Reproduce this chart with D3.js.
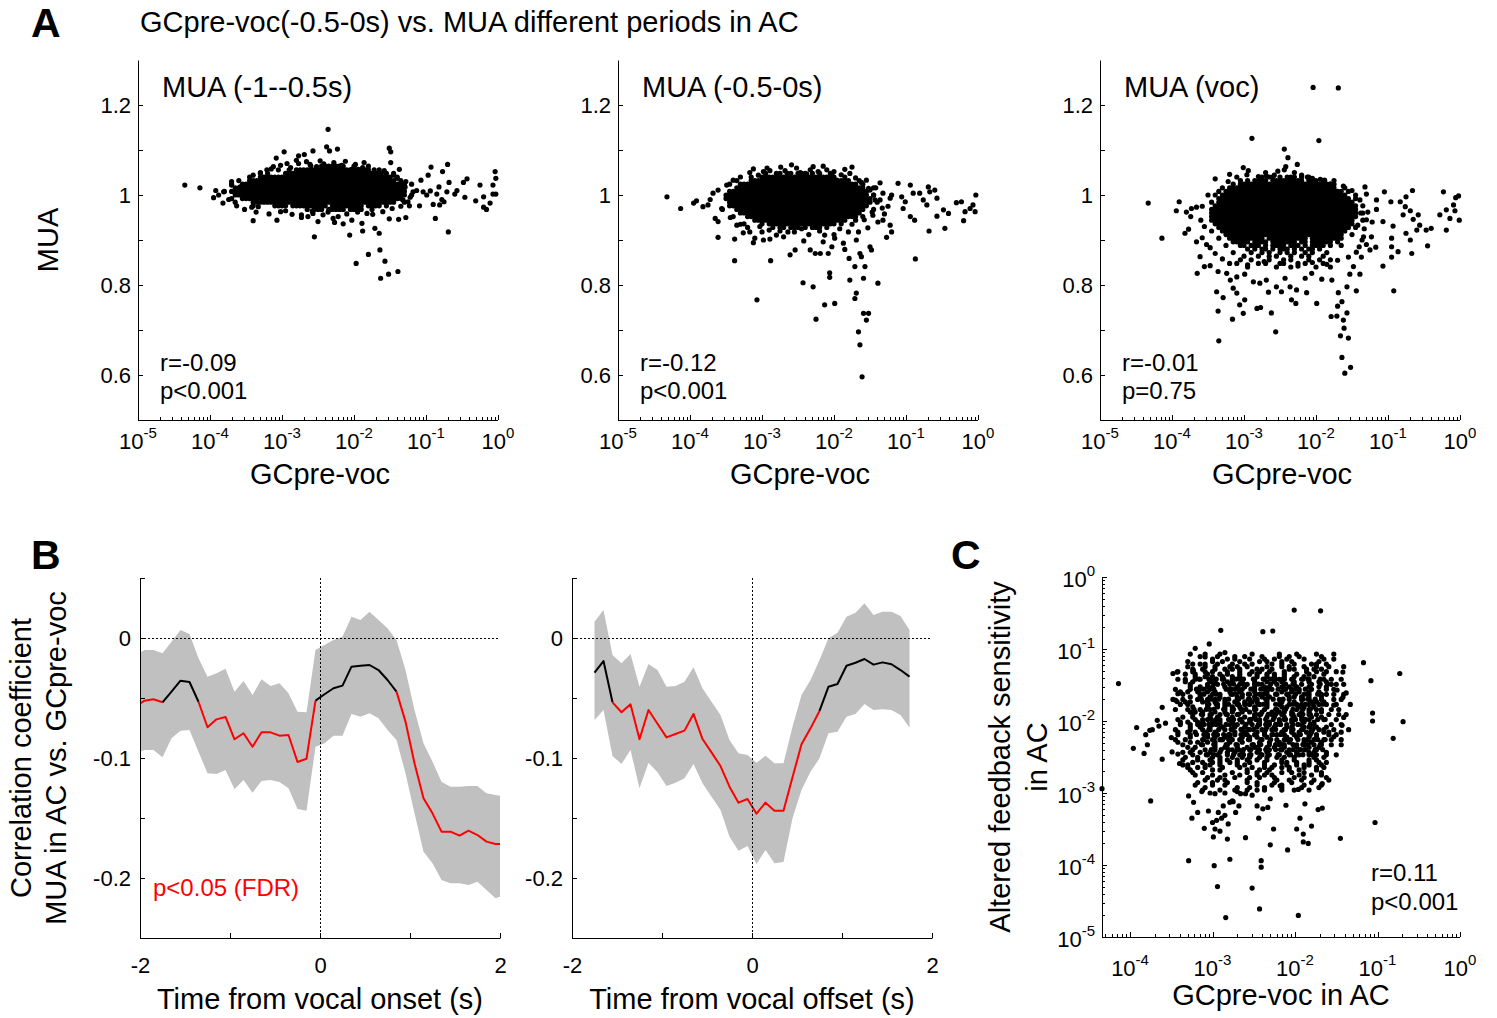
<!DOCTYPE html>
<html>
<head>
<meta charset="utf-8">
<script src="https://cdn.jsdelivr.net/npm/d3@7"></script>
<style>
  body { margin: 0; background: #fff; }
  text { font-family: Arial, "Liberation Sans", Helvetica, sans-serif; fill: #000; }
</style>
</head>
<body>
<svg id="fig" width="1497" height="1018"></svg>
<script>
// ---------------- data ----------------
// panel A: MUA vs GCpre-voc, three periods
var aTitles = ["MUA (-1--0.5s)", "MUA (-0.5-0s)", "MUA (voc)"];
var aStatR = ["r=-0.09", "r=-0.12", "r=-0.01"];
var aStatP = ["p<0.001", "p<0.001", "p=0.75"];
var aYTickValues = [0.6, 0.7, 0.8, 0.9, 1, 1.1, 1.2];
var aYTickLabels = [0.6, 0.8, 1, 1.2];
var aXTickExp = [-5, -4, -3, -2, -1, 0];

// scattered dots: [log10(GCpre-voc), MUA]
var a1Points = [[-4.35,1.022],[-4.14,1.016],[-3.95,0.994],[-3.92,1.010],[-3.82,0.982],[-3.81,1.007],[-3.70,1.022],[-3.63,0.976],[-3.58,1.018],[-3.40,0.943],[-3.40,1.044],[-3.42,0.973],[-3.07,0.944],[-2.97,1.096],[-3.08,1.082],[-2.77,1.087],[-2.69,1.090],[-2.57,1.098],[-2.36,1.146],[-2.38,1.107],[-2.34,1.098],[-2.23,1.102],[-2.55,0.907],[-2.50,0.941],[-2.06,0.911],[-1.97,0.848],[-1.80,0.868],[-1.64,0.878],[-1.57,0.853],[-1.63,0.815],[-1.52,0.824],[-1.39,0.830],[-1.51,1.104],[-1.49,1.096],[-1.49,1.072],[-1.86,1.072],[-0.69,0.918],[-0.87,0.948],[-1.28,0.950],[-1.38,0.946],[-1.51,0.947],[-1.65,0.915],[-1.71,0.926],[-1.88,0.920],[-1.89,0.937],[-2.15,0.936],[-2.27,0.939],[-2.64,0.952],[-2.73,0.950],[-2.95,0.965],[-3.33,0.974],[-0.93,1.062],[-0.70,1.068],[-0.77,1.052],[-0.97,1.044],[-1.07,1.033],[-0.82,1.018],[-0.68,1.028],[-0.48,1.028],[-0.43,1.036],[-0.25,1.022],[-0.04,1.052],[-0.03,1.037],[-0.07,1.022],[-0.07,1.002],[-0.03,1.002],[-0.20,0.996],[-0.31,0.987],[-0.11,0.982],[-0.16,0.968],[-0.20,0.973],[-0.46,0.995],[-0.57,1.010],[-0.60,1.002],[-0.71,1.007],[-0.78,0.990],[-0.85,1.002],[-0.90,0.979],[-0.75,0.985],[-0.81,0.978],[-0.94,1.009],[-0.99,1.000],[-1.04,1.007],[-1.09,0.976],[-1.18,1.007],[-1.22,0.995],[-1.23,0.976],[-1.32,0.989],[-1.34,1.002],[-1.37,1.057],[-1.62,1.048],[-1.45,1.044],[-1.29,1.018],[-1.13,1.010],[-2.73,0.956],[-2.57,0.959],[-2.43,0.956],[-2.29,0.948],[-2.03,0.944],[-1.82,0.959],[-3.21,1.056],[-3.12,1.063],[-2.93,1.070],[-2.77,1.070],[-2.66,1.074],[-2.52,1.063],[-2.03,1.057],[-1.94,1.057],[-1.78,1.048],[-1.66,1.041],[-3.30,1.050],[-3.15,1.058],[-3.02,1.066],[-2.88,1.061],[-2.80,1.077],[-2.61,1.068],[-2.47,1.076],[-2.42,1.069],[-2.28,1.072],[-2.17,1.066],[-2.12,1.075],[-1.98,1.068],[-1.88,1.061],[-1.72,1.056],[-1.58,1.054],[-1.55,1.040],[-1.40,1.037],[-3.52,0.968],[-3.36,0.962],[-3.18,0.958],[-3.02,0.963],[-2.86,0.957],[-2.58,0.964],[-2.36,0.962],[-2.22,0.952],[-2.10,0.958],[-1.95,0.962],[-1.74,0.957],[-1.60,0.963],[-1.47,0.970],[-1.35,0.975],[-3.74,0.990],[-3.88,1.000],[-3.70,1.030],[-1.28,1.030],[-1.25,0.985]];
var a2Points = [[-3.17,1.050],[-2.98,1.052],[-2.89,1.054],[-2.80,1.048],[-2.68,1.054],[-2.59,1.067],[-2.47,1.050],[-2.38,1.047],[-2.29,1.063],[-2.22,1.052],[-2.10,1.056],[-2.03,1.044],[-1.96,1.033],[-1.85,1.057],[-1.75,1.062],[-1.78,1.048],[-1.55,1.033],[-1.36,1.027],[-1.52,1.015],[-4.32,0.996],[-4.13,0.970],[-3.95,0.982],[-3.91,0.987],[-3.82,0.974],[-3.75,0.978],[-3.72,0.990],[-3.68,1.004],[-3.61,1.011],[-3.65,0.948],[-3.61,0.941],[-3.61,0.906],[-3.56,0.970],[-3.49,1.022],[-3.40,1.033],[-3.38,0.902],[-3.38,0.854],[-3.35,0.933],[-3.26,0.916],[-3.17,0.918],[-3.12,0.894],[-3.10,0.904],[-3.03,0.930],[-2.98,0.900],[-2.89,0.902],[-2.88,0.854],[-3.07,0.767],[-2.80,0.911],[-2.70,0.907],[-2.64,0.918],[-2.61,0.867],[-2.54,0.878],[-2.43,0.805],[-2.42,0.898],[-2.29,0.796],[-2.33,0.878],[-2.26,0.870],[-2.19,0.870],[-2.13,0.911],[-2.15,0.896],[-2.08,0.870],[-2.06,0.827],[-2.06,0.817],[-2.03,0.885],[-1.99,0.904],[-2.13,0.756],[-1.99,0.759],[-2.25,0.724],[-1.87,0.893],[-1.85,0.879],[-1.79,0.859],[-1.78,0.811],[-1.71,0.841],[-1.71,0.770],[-1.69,0.782],[-1.69,0.900],[-1.66,0.918],[-1.64,0.870],[-1.59,0.815],[-1.57,0.841],[-1.62,0.863],[-1.59,0.737],[-1.55,0.722],[-1.52,0.737],[-1.66,0.696],[-1.64,0.667],[-1.61,0.596],[-1.50,0.885],[-1.48,0.878],[-1.39,0.804],[-1.32,0.944],[-1.27,0.906],[-1.22,0.933],[-1.20,0.918],[-1.36,0.989],[-1.32,1.004],[-1.22,0.993],[-1.11,1.026],[-1.06,0.996],[-1.01,0.985],[-0.94,1.022],[-0.90,1.004],[-1.04,0.970],[-0.94,0.952],[-0.88,0.944],[-0.87,0.858],[-0.81,1.004],[-0.76,0.989],[-0.69,1.018],[-0.67,1.007],[-0.71,0.978],[-0.60,1.011],[-0.57,0.993],[-0.57,0.953],[-0.68,0.920],[-0.48,0.967],[-0.46,0.926],[-0.41,0.959],[-0.30,0.983],[-0.23,0.985],[-0.18,0.963],[-0.20,0.943],[-0.11,0.970],[-0.07,0.978],[-0.04,0.963],[-0.03,1.000],[-1.50,1.011],[-1.43,0.989],[-1.47,0.962],[-1.39,0.940],[-1.53,0.927],[-1.33,0.971],[-1.42,1.016],[-3.30,1.040],[-3.12,1.058],[-3.05,1.044],[-2.93,1.060],[-2.74,1.062],[-2.62,1.046],[-2.52,1.060],[-2.33,1.056],[-2.15,1.064],[-2.00,1.052],[-1.90,1.045],[-1.70,1.038],[-1.62,1.028],[-3.44,0.950],[-3.30,0.935],[-3.20,0.928],[-3.00,0.918],[-2.90,0.922],[-2.75,0.920],[-2.55,0.918],[-2.45,0.925],[-2.35,0.912],[-2.20,0.920],[-2.00,0.912],[-1.92,0.925],[-1.80,0.918],[-1.75,0.935],[-1.58,0.945],[-1.46,0.955],[-1.30,0.958],[-1.25,0.975],[-1.20,1.000],[-1.45,1.000]];
var a3Points = [[-2.04,1.239],[-1.69,1.238],[-2.89,1.126],[-1.96,1.121],[-2.44,1.102],[-2.39,1.083],[-2.26,1.068],[-3.01,1.061],[-2.94,1.054],[-3.20,1.046],[-2.80,1.041],[-2.69,1.042],[-2.53,1.053],[-2.44,1.056],[-2.42,1.063],[-2.20,1.044],[-2.05,1.037],[-1.94,1.035],[-1.88,1.033],[-4.33,0.982],[-4.14,0.904],[-3.94,0.965],[-3.90,0.985],[-3.80,0.962],[-3.73,0.970],[-3.66,0.973],[-3.74,0.952],[-3.60,0.944],[-3.50,1.000],[-3.82,0.915],[-3.77,0.924],[-3.66,0.896],[-3.61,0.863],[-3.47,0.883],[-3.55,0.841],[-3.65,0.826],[-3.47,0.843],[-3.36,0.830],[-3.38,0.785],[-3.29,0.772],[-3.36,0.742],[-3.16,0.724],[-3.35,0.676],[-3.15,0.793],[-3.06,0.756],[-2.99,0.767],[-3.01,0.737],[-2.82,0.748],[-2.77,0.750],[-2.62,0.738],[-2.56,0.696],[-3.10,0.782],[-3.24,0.826],[-3.19,0.811],[-3.10,0.818],[-2.99,0.824],[-2.87,0.807],[-2.78,0.804],[-2.69,0.811],[-2.66,0.784],[-2.55,0.796],[-2.48,0.785],[-2.43,0.815],[-2.36,0.796],[-2.34,0.767],[-2.28,0.759],[-2.27,0.789],[-2.13,0.783],[-1.99,0.759],[-2.15,0.815],[-2.06,0.826],[-1.92,0.813],[-1.78,0.811],[-1.69,0.783],[-1.57,0.796],[-1.44,0.787],[-1.70,0.753],[-1.79,0.730],[-1.71,0.731],[-1.57,0.738],[-1.62,0.722],[-1.61,0.704],[-1.66,0.687],[-1.55,0.682],[-1.64,0.639],[-1.52,0.617],[-1.60,0.604],[-1.64,0.763],[-0.92,0.787],[-1.53,0.824],[-1.48,0.841],[-1.39,0.824],[-1.37,0.862],[-1.07,0.842],[-0.95,0.862],[-0.86,0.874],[-0.67,0.870],[-0.45,0.887],[-1.17,0.884],[-1.32,1.018],[-1.30,1.002],[-1.16,0.989],[-1.05,1.007],[-0.96,0.985],[-0.83,0.985],[-0.75,0.996],[-0.66,1.010],[-0.76,0.974],[-0.69,0.965],[-0.79,0.956],[-0.65,0.946],[-0.58,0.956],[-0.56,0.933],[-0.47,0.922],[-0.40,0.926],[-0.60,0.922],[-0.75,0.915],[-0.69,0.900],[-0.93,0.931],[-1.07,0.941],[-0.95,0.904],[-0.95,0.885],[-1.16,0.968],[-1.23,0.907],[-1.34,0.907],[-0.23,1.007],[-0.02,0.998],[-0.06,0.994],[-0.09,0.978],[-0.19,0.967],[-0.07,0.965],[-0.01,0.944],[-0.14,0.948],[-0.28,0.956],[-0.19,0.922],[-1.39,0.989],[-1.28,0.962],[-1.42,0.933],[-1.22,0.940],[-1.36,0.900],[-1.25,0.878],[-1.44,0.873],[-3.40,1.036],[-3.22,1.030],[-3.10,1.040],[-2.96,1.045],[-2.70,1.050],[-2.58,1.044],[-2.30,1.050],[-2.12,1.040],[-1.80,1.025],[-1.62,1.020],[-1.50,1.010],[-3.58,0.975],[-3.55,0.930],[-3.58,0.905],[-3.52,0.890],[-1.38,0.960],[-1.30,0.945],[-1.33,0.925],[-1.30,0.890],[-1.40,0.885],[-3.40,0.870],[-3.30,0.858],[-3.20,0.848],[-2.95,0.845],[-2.72,0.852],[-2.45,0.848],[-2.25,0.842],[-2.05,0.850],[-1.85,0.846],[-1.70,0.855],[-1.55,0.862]];

// dense cores read as rows: [MUA, log10 GC of first column, '#' = dot], columns 0.05 decade apart
var coreStep = 0.05;
var a1Core = [
  [1.064, -3.80, "........................#..#######..#...#"],
  [1.056, -3.80, "...............#..#.#####################..#"],
  [1.048, -3.80, "..........#.#....###########################.#.#"],
  [1.040, -3.80, ".......#..#####################################.#"],
  [1.032, -3.80, "....#..#########################################.#"],
  [1.024, -3.80, "..#..##############################################.#"],
  [1.016, -3.80, "...################################################"],
  [1.008, -3.80, "#.#################################################"],
  [1.000, -3.80, "...################################################.#"],
  [0.992, -3.80, "..#..#############################################"],
  [0.984, -3.80, "...#....########################################..#"],
  [0.976, -3.80, "........#.....####.##########.#########.####.#"],
  [0.968, -3.80, ".......................#.###.#####.####..#"]
];
var a2Core = [
  [1.048, -3.55, "............#...#.##.###.#.#..#"],
  [1.040, -3.55, "........#..#####################..#"],
  [1.032, -3.55, "....#...############################..#"],
  [1.024, -3.55, "..#..#################################.#"],
  [1.016, -3.55, "....####################################..#"],
  [1.008, -3.55, "..#######################################"],
  [1.000, -3.55, ".########################################.#"],
  [0.992, -3.55, ".#########################################"],
  [0.984, -3.55, "..########################################.#"],
  [0.976, -3.55, "..#######################################"],
  [0.968, -3.55, "#...####################################..#"],
  [0.960, -3.55, ".....##################################"],
  [0.952, -3.55, "...#...###############################.#"],
  [0.944, -3.55, ".........##########################..#"],
  [0.936, -3.55, "......#....#.###################.#"],
  [0.928, -3.55, "..............#.##.###.#.###.#"]
];
var a3Core = [
  [1.040, -3.45, "..............#.##.#.###.#.#"],
  [1.032, -3.45, "........#.#.####.#########.###.#..#"],
  [1.024, -3.45, "......#.#########################.#"],
  [1.016, -3.45, "...#.##############################..#"],
  [1.008, -3.45, "..#.#################################.#"],
  [1.000, -3.45, ".#.###################################..#"],
  [0.992, -3.45, "..#####################################.#"],
  [0.984, -3.45, "#.######################################"],
  [0.976, -3.45, ".########################################.#"],
  [0.968, -3.45, "#########################################"],
  [0.960, -3.45, "#########################################.#"],
  [0.952, -3.45, "#########################################"],
  [0.944, -3.45, "########################################..#"],
  [0.936, -3.45, ".#######################################"],
  [0.928, -3.45, "..#####################################.#"],
  [0.920, -3.45, "#..###################################"],
  [0.912, -3.45, "....#################################..#"],
  [0.904, -3.45, "..#..##########.###########.#########"],
  [0.896, -3.45, "......#####.####.#######.##.######.#"],
  [0.888, -3.45, "....#...##.###.#.####.###.#.####.#..#"],
  [0.880, -3.45, "..........#.#.##.#.###.#.#.##.#"],
  [0.872, -3.45, "......#....#..#.#..#.#.#..#.#...#"],
  [0.864, -3.45, ".........#...#..#.#...#..#.#...#"],
  [0.856, -3.45, "........#..#....#...#.#....#..#..#"],
  [0.848, -3.45, ".......#.....#.#...#....#.#....#"],
  [0.840, -3.45, "..........#.......#...#......#...#"]
];

// panel B: correlation MUA vs GCpre-voc over time
var onsetTime = [-2.05,-1.95,-1.85,-1.75,-1.65,-1.55,-1.45,-1.35,-1.25,-1.15,-1.05,-0.95,-0.85,-0.75,-0.65,-0.55,-0.45,-0.35,-0.25,-0.15,-0.05,0.05,0.15,0.25,0.35,0.45,0.55,0.65,0.75,0.85,0.95,1.05,1.15,1.25,1.35,1.45,1.55,1.65,1.75,1.85,1.95,2.05];
var onsetR = [-0.0572,-0.0522,-0.0511,-0.0536,-0.0447,-0.0356,-0.0367,-0.0531,-0.0744,-0.0678,-0.0658,-0.0844,-0.0794,-0.0906,-0.0786,-0.0786,-0.0814,-0.0808,-0.1033,-0.1006,-0.0522,-0.0469,-0.0419,-0.0397,-0.0239,-0.0231,-0.0225,-0.0267,-0.0350,-0.0447,-0.0697,-0.1044,-0.1336,-0.1461,-0.1614,-0.1614,-0.1647,-0.1606,-0.1642,-0.1697,-0.1717,-0.1717];
var onsetHi = [-0.0142,-0.0100,-0.0100,-0.0128,-0.0031,0.0067,0.0033,-0.0169,-0.0322,-0.0294,-0.0256,-0.0447,-0.0358,-0.0475,-0.0344,-0.0400,-0.0378,-0.0461,-0.0614,-0.0619,-0.0100,-0.0058,-0.0017,0.0011,0.0178,0.0150,0.0219,0.0150,0.0081,-0.0017,-0.0267,-0.0600,-0.0878,-0.1031,-0.1197,-0.1239,-0.1239,-0.1233,-0.1233,-0.1294,-0.1308,-0.1322];
var onsetLo = [-0.0961,-0.0933,-0.0933,-0.0994,-0.0836,-0.0772,-0.0767,-0.0947,-0.1128,-0.1133,-0.1100,-0.1261,-0.1183,-0.1289,-0.1192,-0.1183,-0.1200,-0.1253,-0.1425,-0.1439,-0.0906,-0.0878,-0.0814,-0.0814,-0.0633,-0.0656,-0.0628,-0.0669,-0.0767,-0.0850,-0.1128,-0.1461,-0.1781,-0.1878,-0.2017,-0.2044,-0.2044,-0.2058,-0.2031,-0.2100,-0.2169,-0.2142];
var onsetSig = [1,1,1,1,0,0,0,1,1,1,1,1,1,1,1,1,1,1,1,1,1,0,0,0,0,0,0,0,0,1,1,1,1,1,1,1,1,1,1,1,1,1];

var offsetTime = [-1.75,-1.65,-1.55,-1.45,-1.35,-1.25,-1.15,-1.05,-0.95,-0.85,-0.75,-0.65,-0.55,-0.45,-0.35,-0.25,-0.15,-0.05,0.05,0.15,0.25,0.35,0.45,0.55,0.65,0.75,0.85,0.95,1.05,1.15,1.25,1.35,1.45,1.55,1.65,1.75];
var offsetR = [-0.0289,-0.0192,-0.0536,-0.0619,-0.0553,-0.0844,-0.0600,-0.0714,-0.0828,-0.0800,-0.0772,-0.0633,-0.0842,-0.0953,-0.1067,-0.1239,-0.1372,-0.1342,-0.1464,-0.1372,-0.1439,-0.1439,-0.1161,-0.0886,-0.0753,-0.0608,-0.0406,-0.0383,-0.0231,-0.0206,-0.0175,-0.0222,-0.0203,-0.0219,-0.0267,-0.0322];
var offsetHi = [0.0136,0.0233,-0.0142,-0.0211,-0.0133,-0.0406,-0.0217,-0.0267,-0.0406,-0.0400,-0.0364,-0.0244,-0.0419,-0.0531,-0.0642,-0.0850,-0.0961,-0.0975,-0.1039,-0.0981,-0.1044,-0.1044,-0.0739,-0.0475,-0.0350,-0.0183,-0.0003,0.0044,0.0178,0.0211,0.0289,0.0192,0.0219,0.0219,0.0183,0.0067];
var offsetLo = [-0.0683,-0.0600,-0.0983,-0.1050,-0.0933,-0.1253,-0.1039,-0.1119,-0.1233,-0.1206,-0.1169,-0.1050,-0.1211,-0.1322,-0.1433,-0.1656,-0.1772,-0.1733,-0.1883,-0.1767,-0.1878,-0.1867,-0.1503,-0.1267,-0.1114,-0.1003,-0.0794,-0.0781,-0.0656,-0.0633,-0.0550,-0.0600,-0.0594,-0.0600,-0.0642,-0.0747];
var offsetSig = [0,0,1,1,1,1,1,1,1,1,1,1,1,1,1,1,1,1,1,1,1,1,1,1,1,1,0,0,0,0,0,0,0,0,0,0];

var bYTickValues = [-0.25, -0.2, -0.15, -0.1, -0.05, 0, 0.05];
var bYTickText = ["", "-0.2", "", "-0.1", "", "0", ""];
var bXTickValues = [-2, -1, 0, 1, 2];
var bXTickText = ["-2", "", "0", "", "2"];

// panel C: altered feedback sensitivity vs GCpre-voc, [log10 GC, log10 sensitivity]
var cPoints = [[-2.01,-0.46],[-1.69,-0.47],[-2.90,-0.74],[-2.39,-0.76],[-2.27,-0.75],[-3.21,-0.99],[-3.04,-0.93],[-2.85,-1.05],[-3.09,-1.11],[-3.15,-1.21],[-3.23,-1.30],[-3.48,-1.34],[-3.43,-1.32],[-3.33,-1.42],[-4.14,-1.48],[-1.17,-1.19],[-1.08,-1.44],[-0.73,-1.34],[-1.42,-1.32],[-1.06,-1.89],[-1.06,-2.00],[-0.69,-2.01],[-0.81,-2.24],[-1.33,-1.77],[-1.42,-1.67],[-1.38,-1.61],[-1.49,-1.57],[-1.53,-1.78],[-1.41,-1.95],[-1.35,-2.12],[-1.43,-2.06],[-1.53,-2.22],[-3.61,-1.81],[-3.48,-1.70],[-3.43,-1.73],[-3.57,-2.03],[-3.67,-1.99],[-3.65,-2.07],[-3.73,-2.12],[-3.76,-2.13],[-3.92,-2.09],[-3.81,-2.19],[-3.79,-2.33],[-3.96,-2.38],[-3.83,-2.45],[-3.61,-2.53],[-3.50,-2.23],[-3.49,-2.43],[-3.42,-2.46],[-3.40,-2.59],[-3.36,-2.61],[-3.42,-1.62],[-3.45,-1.71],[-4.34,-2.94],[-3.75,-3.11],[-3.29,-3.04],[-3.23,-3.13],[-3.18,-3.27],[-3.25,-3.35],[-3.10,-3.49],[-3.05,-3.25],[-2.99,-3.61],[-2.97,-3.50],[-2.91,-3.53],[-3.00,-3.41],[-2.95,-3.38],[-2.93,-3.27],[-2.89,-3.35],[-2.85,-3.31],[-2.81,-3.43],[-2.87,-3.18],[-2.79,-3.13],[-2.75,-3.12],[-2.72,-3.27],[-2.68,-3.18],[-2.82,-3.64],[-2.60,-3.62],[-2.46,-3.18],[-2.39,-3.22],[-2.33,-3.20],[-2.44,-3.35],[-2.30,-3.08],[-2.26,-3.50],[-2.30,-3.72],[-2.11,-3.17],[-1.94,-3.35],[-1.88,-3.15],[-1.98,-3.50],[-1.90,-3.57],[-1.90,-3.68],[-1.84,-3.70],[-1.80,-3.46],[-2.09,-3.79],[-1.72,-3.23],[-1.67,-3.21],[-1.67,-2.87],[-1.45,-3.63],[-1.03,-3.41],[-3.29,-3.94],[-2.98,-4.01],[-2.79,-3.92],[-2.41,-3.94],[-2.41,-4.03],[-2.94,-4.30],[-2.52,-4.32],[-2.43,-4.61],[-2.84,-4.73],[-1.96,-4.70],[-3.13,-2.98],[-3.03,-3.00],[-2.97,-3.01],[-2.91,-2.96],[-2.85,-3.00],[-2.76,-3.11],[-2.70,-2.98],[-2.66,-3.01],[-2.60,-3.01],[-2.52,-3.03],[-2.46,-2.96],[-2.18,-2.90],[-1.96,-2.95]];
// dense part read as rows: [log10 sensitivity, log10 GC of first column, '#' = dot], columns 0.03 decade apart
var cStep = 0.03;
var cCore = [
  [-1.070, -3.90, ".................... .#.....#.. ...#...... ......#... .......#.. ....#..... ..#......#"],
  [-1.105, -3.90, ".................. .......#.. ....#..... .#...#.... ..#......# ...#...#.. ......#..."],
  [-1.140, -3.90, "........................ ......#... ..#..#.... .#.....#.. .#....#... ...#...... .#...#...."],
  [-1.175, -3.90, "................. ...#...... ...#...#.. ....#..... ..#..#.... .#...#.... ......#..."],
  [-1.210, -3.90, "..................... .#....#... .#.....#.. ..#..#.... ...#...#.. ..#......# .#...#...."],
  [-1.245, -3.90, "................ ....#..... .#...#.... .#..#...#. ......#... ..#..#.... .#....#... .#.....#.."],
  [-1.280, -3.90, "................... ...#...#.. ..#...#..# ..#......# .#...#.... ..#.#....# ..#..#...."],
  [-1.315, -3.90, "............... .#.....#.. ..#..#.... .#....#... .#..#...#. ....#..... ...#...#.. .#...#...."],
  [-1.350, -3.90, ".................. .#...#.... #....#..#. ...#...#.. #...#..#.. .#....#... .#.....#.."],
  [-1.385, -3.90, "................ .......#.. .#..#...#. ..#..#.... ..#...#..# ...#...#.. .#...#...."],
  [-1.420, -3.90, ".............. ..#......# .#....#... #...#..#.. ...#...#.. ...#.#..#. ..#..#.... .#..#...#."],
  [-1.455, -3.90, "................. ..#..#.... ..#.#....# .#...#.... #....#..#. .#....#... ..#...#..#"],
  [-1.490, -3.90, "............... ......#... ...#...#.. ..#...#..# ..#..#.... .#..#...#. .#...#.... ...#.#..#."],
  [-1.525, -3.90, "................... ..#...#..# .#....#... .#..#...#. ..#.#....# ..#..#.... #...#..#.."],
  [-1.560, -3.90, ".............. .#.....#.. .#...#.... ...#.#..#. ...#...#.. #....#..#. .#....#... ..#..#...."],
  [-1.595, -3.90, "................ .#..#...#. ..#..#.... .#...#.... .#....#... ..#...#..# ...#...#.."],
  [-1.630, -3.90, "............... ...#...... #....#..#. ...#...#.. #...#..#.. .#...#.... ..#.#....# .#..#...#."],
  [-1.665, -3.90, ".................. ...#...#.. .#...#.... ..#.#....# ..#..#.... ...#.#..#. .#....#..."],
  [-1.700, -3.90, ".............. ....#..... #...#..#.. .#....#... .#..#...#. ...#...#.. ..#..#.... #....#..#."],
  [-1.735, -3.90, "................. ..#.#....# .#..#...#. ..#...#..# .#...#.... .#....#... ...#.#..#."],
  [-1.770, -3.90, "............... ..#..#.... ...#...#.. #....#..#. #...#..#.. ..#...#..# .#..#...#. .#...#...."],
  [-1.805, -3.90, "................ ......#... ..#...#..# ..#..#.... .#....#... ..#.#....# .#...#...."],
  [-1.840, -3.90, ".............. .#....#... .#...#.... .#..#...#. ...#...#.. ..#..#.... #....#..#. #...#..#.."],
  [-1.875, -3.90, ".................. ...#.#..#. ...#...#.. #...#..#.. ..#...#..# .#..#...#. .#....#..."],
  [-1.910, -3.90, "............... .......#.. .#..#...#. .#...#.... ..#.#....# ...#...#.. #...#..#.. ..#...#..#"],
  [-1.945, -3.90, "................. .#...#.... ..#..#.... .#....#... #....#..#. ..#...#..# ...#...#.."],
  [-1.980, -3.90, ".............. ..#......# ..#.#....# ...#...#.. .#...#.... ...#.#..#. ..#..#.... .#....#..."],
  [-2.015, -3.90, "................ .#..#...#. #...#..#.. ..#...#..# ...#...#.. .#....#... .#...#...."],
  [-2.050, -3.90, "............... ..#...#..# #....#..#. ..#..#.... .#..#...#. .#...#.... .#....#... ...#...#.."],
  [-2.085, -3.90, ".................. ...#...#.. .#....#... .#...#.... #...#..#.. ..#.#....# .#..#...#."],
  [-2.120, -3.90, ".............. .#.....#.. ..#..#.... .#..#...#. .#....#... #....#..#. ..#...#..# .#...#...."],
  [-2.155, -3.90, "................ #...#..#.. .#...#.... ...#...#.. ..#..#.... ..#...#..# ..#.#....# .#....#..."],
  [-2.190, -3.90, "............... .#....#... ...#...#.. ..#.#....# ..#...#..# .#..#...#. #...#..#.. ..#..#...."],
  [-2.225, -3.90, "................. ....#..... .#..#...#. #....#..#. .#...#.... ...#...#.. ..#..#...."],
  [-2.260, -3.90, ".............. .#...#.... ..#...#..# #...#..#.. .#....#... ..#..#.... ...#...#.. .#..#...#."],
  [-2.295, -3.90, "................ #....#..#. ..#..#.... .#....#... ...#...#.. .#...#.... .#..#...#."],
  [-2.330, -3.90, "............... ...#...... .#....#... .#...#.... .#..#...#. ..#.#....# ..#...#..# ...#...#.."],
  [-2.365, -3.90, ".................. ..#..#.... ...#...#.. ..#...#..# #...#..#.. .#....#... .#...#...."],
  [-2.400, -3.90, "................ ......#... .#...#.... ..#.#....# ...#...#.. ..#..#.... .#....#..."],
  [-2.435, -3.90, "................. .#..#...#. ..#...#..# ..#..#.... .#...#.... ...#...#.. ..#.#....#"],
  [-2.470, -3.90, "............... .......#.. ...#...#.. .#....#... #....#..#. ..#...#..# #...#..#.. .#...#...."],
  [-2.505, -3.90, ".................. .#....#... ..#..#.... #...#..#.. .#..#...#. .#...#.... ...#...#.."],
  [-2.540, -3.90, "................. .#.....#.. ..#...#..# ...#...#.. .#...#.... .#....#... ..#..#...."],
  [-2.575, -3.90, "................... ...#...#.. .#..#...#. .#....#... ..#......# .#...#.... #...#..#.."],
  [-2.610, -3.90, ".................. ..#......# .#...#.... ..#..#.... ...#...#.. ..#...#..# .#....#..."],
  [-2.645, -3.90, ".................... #...#..#.. ....#..... .#....#... .#..#...#. .#.....#.. ..#..#...."],
  [-2.680, -3.90, ".................. ...#...... ..#..#.... ......#... .#...#.... ...#...#.. ....#....."],
  [-2.715, -3.90, "..................... .#...#.... .......#.. ...#...#.. .#.....#.. .#....#... ...#......"],
  [-2.750, -3.90, "................... ....#..... .#....#... ..#......# ..#..#.... ......#... .#...#...."],
  [-2.785, -3.90, "...................... ......#... .#.....#.. ...#...#.. ...#...... .#...#.... ....#....."],
  [-2.820, -3.90, ".................... .......#.. ..#..#.... ....#..... ......#... .#....#... .#.....#.."],
  [-2.855, -3.90, "....................... .#.....#.. ...#...... .#...#.... ..#......# .......#.."],
  [-2.890, -3.90, "..................... ..#......# ....#..... .......#.. ...#...#.. ......#... ...#......"],
  [-2.925, -3.90, "........................ ...#...... ......#... .#.....#.. ....#..... ..#......#"],
  [-2.960, -3.90, "...................... ....#..... .......#.. ..#......# ......#... .#.....#.."],
  // inner rows of the densest part, between the rows above
  [-1.4175, -3.885, "........................ #...#..#.. #....#..#. ..#...#..# .#..#...#. ..#.#....#"],
  [-1.4875, -3.885, "........................... ...#...#.. .#...#.... .#....#... ..#..#.... ..#...#..#"],
  [-1.5575, -3.885, "...................... .#..#...#. ...#.#..#. ...#...#.. #...#..#.. .#...#...."],
  [-1.6275, -3.885, "......................... .#....#... ..#.#....# ..#..#.... #....#..#. ...#...#.."],
  [-1.6975, -3.885, "....................... ..#...#..# ...#...#.. .#..#...#. .#...#.... ...#.#..#."],
  [-1.7675, -3.885, ".......................... ..#..#.... #...#..#.. ..#.#....# .#....#... .#..#...#."],
  [-1.8375, -3.885, "...................... #....#..#. ..#...#..# .#...#.... ...#...#.. #...#..#.."],
  [-1.9075, -3.885, "........................ .#...#.... .#....#... ...#.#..#. .#..#...#. ..#..#...."],
  [-1.9775, -3.885, "........................... ..#.#....# .#..#...#. #...#..#.. ..#...#..# #....#..#."],
  [-2.0475, -3.885, "....................... ...#.#..#. ..#..#.... #....#..#. ..#.#....# .#....#..."],
  [-2.1175, -3.885, "......................... ...#...#.. ..#...#..# .#....#... #...#..#.. .#...#...."],
  [-2.1875, -3.885, "...................... .#..#...#. ..#.#....# .#...#.... ..#..#.... ...#...#.."],
  [-2.2575, -3.885, ".......................... #...#..#.. #....#..#. ...#...#.. ...#.#..#. ..#...#..#"],
  [-2.3275, -3.885, "........................ .#....#... .#...#.... ..#..#.... .#..#...#. ..#.#....#"],
  [-2.3975, -3.885, "........................... ..#...#..# ...#.#..#. .#..#...#. #....#..#. #...#..#.."],
  [-2.4675, -3.885, "......................... ..#..#.... ...#...#.. #...#..#.. .#....#... .#...#...."]
];
var cXTickExp = [-4, -3, -2, -1, 0];
var cYTickExp = [-5, -4, -3, -2, -1, 0];

// ---------------- helpers ----------------
var svg = d3.select('#fig');

function rasterPoints(rows, step) {
  var pts = [];
  rows.forEach(function(row) {
    var cells = row[2].replace(/ /g, '');
    for (var k = 0; k < cells.length; k++) {
      if (cells[k] === '#') pts.push([row[1] + k * step, row[0]]);
    }
  });
  return pts;
}

function supText(g, x, y, exp, anchor) {
  var t = g.append('text').attr('x', x).attr('y', y).attr('text-anchor', anchor).style('font-size', '22px');
  t.append('tspan').text('10');
  t.append('tspan').attr('dy', -11).style('font-size', '15px').text(String(exp));
  return t;
}

function logTicks(lo, hi) {
  var out = [];
  for (var e = Math.floor(Math.log10(lo)); e <= Math.ceil(Math.log10(hi)); e++) {
    for (var m = 1; m < 10; m++) {
      var v = m * Math.pow(10, e);
      if (v >= lo * 0.999 && v <= hi * 1.001) out.push({ v: v, major: m === 1 });
    }
  }
  return out;
}

function logAxisX(g, x, y0) {
  var r = x.range();
  g.append('line').attr('x1', r[0]).attr('x2', r[1]).attr('y1', y0 + 0.5).attr('y2', y0 + 0.5).attr('stroke', '#000');
  logTicks(x.domain()[0], x.domain()[1]).forEach(function(t) {
    var px = Math.round(x(t.v)) + 0.5;
    g.append('line').attr('x1', px).attr('x2', px).attr('y1', y0).attr('y2', y0 - (t.major ? 5 : 3)).attr('stroke', '#000');
  });
}

function logAxisY(g, y, x0) {
  var r = y.range();
  g.append('line').attr('x1', x0 + 0.5).attr('x2', x0 + 0.5).attr('y1', r[0]).attr('y2', r[1]).attr('stroke', '#000');
  logTicks(y.domain()[0], y.domain()[1]).forEach(function(t) {
    var py = Math.round(y(t.v)) + 0.5;
    g.append('line').attr('x1', x0).attr('x2', x0 + (t.major ? 5 : 3)).attr('y1', py).attr('y2', py).attr('stroke', '#000');
  });
}

function styleAxis(sel) {
  sel.attr('font-size', null).attr('font-family', null);
  sel.selectAll('text').style('font-size', '22px').attr('fill', '#000');
  sel.selectAll('line,path').attr('stroke', '#000');
}

function plainText(x, y, str, size, anchor, weight, color) {
  return svg.append('text').attr('x', x).attr('y', y).attr('text-anchor', anchor || 'start')
    .style('font-size', size + 'px').style('font-weight', weight || 'normal').style('fill', color || '#000').text(str);
}

function vText(x, y, str, size) {
  return svg.append('text').attr('transform', 'translate(' + x + ',' + y + ') rotate(-90)')
    .attr('text-anchor', 'middle').style('font-size', size + 'px').text(str);
}

// ---------------- panel A ----------------
plainText(31, 37, 'A', 41, 'start', 'bold');
plainText(140, 32, 'GCpre-voc(-0.5-0s) vs. MUA different periods in AC', 29);
vText(58, 240, 'MUA', 29);

var aLeft = [138, 618, 1100];
var aSets = [
  { pts: a1Points, core: a1Core },
  { pts: a2Points, core: a2Core },
  { pts: a3Points, core: a3Core }
];

aSets.forEach(function(set, i) {
  var left = aLeft[i];
  var x = d3.scaleLog().domain([1e-5, 1]).range([left, left + 360]);
  var y = d3.scaleLinear().domain([0.5, 1.3]).range([420, 60]);
  var g = svg.append('g');

  var pts = rasterPoints(set.core, coreStep).concat(set.pts);
  g.append('g').selectAll('circle').data(pts).enter().append('circle')
    .attr('cx', function(d) { return x(Math.pow(10, d[0])); })
    .attr('cy', function(d) { return y(d[1]); })
    .attr('r', 2.6)
    .attr('fill', '#000');

  var ya = d3.axisLeft(y).tickValues(aYTickValues).tickSizeInner(-5).tickSizeOuter(0).tickPadding(7)
    .tickFormat(function(d) { return aYTickLabels.indexOf(d) >= 0 ? String(d) : ''; });
  g.append('g').attr('transform', 'translate(' + left + ',0)').call(ya).call(styleAxis);

  logAxisX(g, x, 420);
  aXTickExp.forEach(function(e) { supText(g, x(Math.pow(10, e)), 449, e, 'middle'); });

  plainText(left + 24, 97, aTitles[i], 29);
  plainText(left + 22, 371, aStatR[i], 24);
  plainText(left + 22, 399, aStatP[i], 24);
  plainText(left + 182, 484, 'GCpre-voc', 29, 'middle');
});

// ---------------- panel B ----------------
plainText(31, 569, 'B', 41, 'start', 'bold');
vText(31, 758, 'Correlation coefficient', 29);
vText(66, 758, 'MUA in AC vs. GCpre-voc', 29);

function drawCorr(left, time, r, hi, lo, sig, xlabel) {
  var x = d3.scaleLinear().domain([-2, 2]).range([left, left + 360]);
  var y = d3.scaleLinear().domain([-0.25, 0.05]).range([938, 578]);
  var clipId = 'clip' + left;
  svg.append('clipPath').attr('id', clipId).append('rect')
    .attr('x', left).attr('y', 578).attr('width', 360).attr('height', 360);
  var g = svg.append('g');
  var pg = g.append('g').attr('clip-path', 'url(#' + clipId + ')');

  var band = d3.area()
    .x(function(d, i) { return x(time[i]); })
    .y0(function(d, i) { return y(lo[i]); })
    .y1(function(d, i) { return y(hi[i]); });
  pg.append('path').datum(time).attr('d', band).attr('fill', '#c0c0c0');

  g.append('line').attr('x1', x(-2)).attr('x2', x(2)).attr('y1', Math.round(y(0)) + 0.5).attr('y2', Math.round(y(0)) + 0.5)
    .attr('stroke', '#000').attr('stroke-dasharray', '2,2');
  g.append('line').attr('x1', Math.round(x(0)) + 0.5).attr('x2', Math.round(x(0)) + 0.5).attr('y1', y(0.05)).attr('y2', y(-0.25))
    .attr('stroke', '#000').attr('stroke-dasharray', '2,2');

  // consecutive runs of significant / non-significant segments
  var runs = [], cur = null;
  for (var i = 0; i < sig.length - 1; i++) {
    var red = !!(sig[i] && sig[i + 1]);
    if (!cur || cur.red !== red) {
      if (cur) { cur.to = i; runs.push(cur); }
      cur = { from: i, red: red };
    }
  }
  cur.to = sig.length - 1; runs.push(cur);
  var line = d3.line().x(function(i) { return x(time[i]); }).y(function(i) { return y(r[i]); });
  runs.forEach(function(run) {
    pg.append('path').datum(d3.range(run.from, run.to + 1)).attr('d', line)
      .attr('fill', 'none').attr('stroke', run.red ? '#ff0000' : '#000')
      .attr('stroke-width', 2).attr('stroke-linejoin', 'round');
  });

  var ya = d3.axisLeft(y).tickValues(bYTickValues).tickSizeInner(-5).tickSizeOuter(0).tickPadding(9)
    .tickFormat(function(d) { return bYTickText[bYTickValues.indexOf(d)]; });
  g.append('g').attr('transform', 'translate(' + left + ',0)').call(ya).call(styleAxis);
  var xa = d3.axisBottom(x).tickValues(bXTickValues).tickSizeInner(-5).tickSizeOuter(0).tickPadding(19)
    .tickFormat(function(d) { return bXTickText[bXTickValues.indexOf(d)]; });
  g.append('g').attr('transform', 'translate(0,938)').call(xa).call(styleAxis);

  plainText(left + 180, 1009, xlabel, 29, 'middle');
}

drawCorr(140, onsetTime, onsetR, onsetHi, onsetLo, onsetSig, 'Time from vocal onset (s)');
drawCorr(572, offsetTime, offsetR, offsetHi, offsetLo, offsetSig, 'Time from vocal offset (s)');
plainText(153, 896, 'p<0.05 (FDR)', 24, 'start', 'normal', '#ff0000');

// ---------------- panel C ----------------
plainText(951, 569, 'C', 41, 'start', 'bold');
vText(1010, 757, 'Altered feedback sensitivity', 29);
vText(1047, 757, 'in AC', 29);

(function() {
  var x = d3.scaleLog().domain([Math.pow(10, -4.34), 1]).range([1102, 1460]);
  var y = d3.scaleLog().domain([1e-5, 1]).range([937, 577]);
  var g = svg.append('g');
  var pts = rasterPoints(cCore, cStep).concat(cPoints);
  g.append('g').selectAll('circle').data(pts).enter().append('circle')
    .attr('cx', function(d) { return x(Math.pow(10, d[0])); })
    .attr('cy', function(d) { return y(Math.pow(10, d[1])); })
    .attr('r', 2.6)
    .attr('fill', '#000');

  logAxisX(g, x, 937);
  logAxisY(g, y, 1102);
  cXTickExp.forEach(function(e) { supText(g, x(Math.pow(10, e)), 976, e, 'middle'); });
  cYTickExp.forEach(function(e) { supText(g, 1095, y(Math.pow(10, e)) + 10, e, 'end'); });

  plainText(1281, 1005, 'GCpre-voc in AC', 29, 'middle');
  plainText(1371, 881, 'r=0.11', 24);
  plainText(1371, 910, 'p<0.001', 24);
})();
</script>
</body>
</html>
